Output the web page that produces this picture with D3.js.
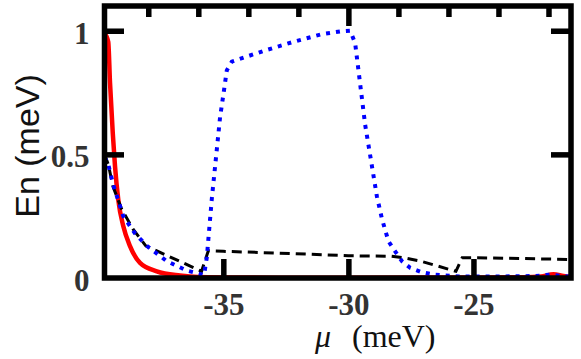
<!DOCTYPE html>
<html>
<head>
<meta charset="utf-8">
<script src="https://cdn.jsdelivr.net/npm/d3@7"></script>
<style>
  body { margin: 0; background: #fff; }
  svg { display: block; }
</style>
</head>
<body>
<svg id="chart" width="581" height="359"></svg>
<script>
// values
const redMu  = [-39.75, -39.6, -39.53, -39.42, -39.33, -39.2, -39.0, -38.73, -38.33, -37.66, -36.73, -36.0, -34.0, -30.0, -26.0, -23.0, -22.3, -21.8, -21.4, -21.1];
const redE   = [0.99, 0.955, 0.79, 0.587, 0.452, 0.317, 0.21, 0.129, 0.061, 0.027, 0.01, 0.004, 0.002, 0.001, 0.002, 0.003, 0.006, 0.015, 0.008, 0.004];

const blueMu = [-39.75, -39.6, -39.41, -39.0, -38.53, -38.06, -37.26, -36.46, -36.0, -35.77, -35.66, -35.46, -35.13, -35.0, -34.86, -34.66, -33.4, -32.2, -31.06, -30.33, -29.93, -29.73, -29.33, -28.86, -28.66, -28.4, -28.13, -27.86, -27.53, -27.06, -26.6, -25.5, -24.0, -22.5, -21.9, -21.5, -21.1];
const blueE  = [0.49, 0.46, 0.38, 0.25, 0.18, 0.13, 0.068, 0.03, 0.018, 0.012, 0.083, 0.32, 0.65, 0.74, 0.84, 0.875, 0.918, 0.955, 0.986, 0.997, 1.0, 0.95, 0.62, 0.33, 0.24, 0.149, 0.108, 0.068, 0.041, 0.023, 0.014, 0.006, 0.006, 0.008, 0.014, 0.008, 0.006];

const blackMu = [-39.75, -39.6, -39.41, -39.07, -38.6, -38.1, -35.87, -35.6, -35.0, -32.3, -30.0, -28.3, -27.8, -27.1, -25.7, -25.45, -24.9, -21.1];
const blackE  = [0.5, 0.46, 0.37, 0.28, 0.196, 0.13, 0.027, 0.11, 0.108, 0.099, 0.09, 0.088, 0.082, 0.068, 0.027, 0.082, 0.082, 0.075];

const xMajor = [-35, -30, -25];
const xTopMinor = [-38, -36, -34, -32, -28, -26, -24, -22];
const xTopLong = [-30];
const yMajor = [0, 0.5, 1];
const yTicksInside = [0.5, 1];

const svg = d3.select('#chart');

const x = d3.scaleLinear().domain([-39.75, -21.1]).range([104.5, 571]);
const y = d3.scaleLinear().domain([0, 1.1]).range([278, 6]);

const zip = (a, b) => a.map((d, i) => [d, b[i]]);

svg.append('clipPath').attr('id', 'plotClip')
    .append('rect')
    .attr('x', x.range()[0]).attr('y', y.range()[1])
    .attr('width', x.range()[1] - x.range()[0])
    .attr('height', y.range()[0] - y.range()[1]);

const plot = svg.append('g').attr('clip-path', 'url(#plotClip)');

const line = d3.line().x(d => x(d[0])).y(d => y(d[1]));

plot.append('path')
    .datum(zip(redMu, redE))
    .attr('d', line.curve(d3.curveMonotoneX))
    .attr('fill', 'none')
    .attr('stroke', '#ff0000')
    .attr('stroke-width', 4.5);

plot.append('path')
    .datum(zip(blackMu, blackE))
    .attr('d', line.curve(d3.curveLinear))
    .attr('fill', 'none')
    .attr('stroke', '#000')
    .attr('stroke-width', 3)
    .attr('stroke-dasharray', '10,6');

plot.append('path')
    .datum(zip(blueMu, blueE))
    .attr('d', line.curve(d3.curveLinear))
    .attr('fill', 'none')
    .attr('stroke', '#0000ff')
    .attr('stroke-width', 4)
    .attr('stroke-dasharray', '4,6');

// axes
function styleAxis(g) {
    g.select('.domain').remove();
    g.selectAll('.tick line').attr('stroke', '#000').attr('stroke-width', 5.5);
    g.selectAll('.tick text')
        .attr('font-family', '"Liberation Serif", "Times New Roman", serif')
        .attr('font-weight', 'bold')
        .attr('font-size', 31)
        .attr('fill', '#333');
}

// plain hyphen like the reference, not the unicode minus
const plain = d => String(d);

svg.append('g')
    .attr('transform', `translate(0,${y.range()[0]})`)
    .call(d3.axisBottom(x).tickValues(xMajor).tickSizeInner(-19).tickSizeOuter(0).tickPadding(37).tickFormat(plain))
    .call(styleAxis)
    .call(g => g.selectAll('.tick text').attr('dy', 0));

svg.append('g')
    .attr('transform', `translate(0,${y.range()[1]})`)
    .call(d3.axisTop(x).tickValues(xTopMinor).tickSizeInner(-11).tickSizeOuter(0).tickFormat(''))
    .call(styleAxis);

svg.append('g')
    .attr('transform', `translate(0,${y.range()[1]})`)
    .call(d3.axisTop(x).tickValues(xTopLong).tickSizeInner(-20).tickSizeOuter(0).tickFormat(''))
    .call(styleAxis);

svg.append('g')
    .attr('transform', `translate(${x.range()[0]},0)`)
    .call(d3.axisLeft(y).tickValues(yMajor).tickSizeInner(-19.5).tickSizeOuter(0).tickPadding(15).tickFormat(plain))
    .call(styleAxis)
    .call(g => g.selectAll('.tick text').attr('dy', '0.4em'))
    .call(g => g.selectAll('.tick').filter(d => d === 0).select('line').remove());

svg.append('g')
    .attr('transform', `translate(${x.range()[1]},0)`)
    .call(d3.axisRight(y).tickValues(yTicksInside).tickSizeInner(-20).tickSizeOuter(0).tickFormat(''))
    .call(styleAxis);

// frame
svg.append('rect')
    .attr('x', x.range()[0]).attr('y', y.range()[1])
    .attr('width', x.range()[1] - x.range()[0])
    .attr('height', y.range()[0] - y.range()[1])
    .attr('fill', 'none')
    .attr('stroke', '#000')
    .attr('stroke-width', 5.5);

// axis titles
const xTitle = svg.append('text')
    .attr('y', 347)
    .attr('font-family', '"Liberation Serif", "Times New Roman", serif')
    .attr('font-size', 32)
    .attr('fill', '#111');
xTitle.append('tspan').attr('x', 315).attr('font-style', 'italic').text('μ');
xTitle.append('tspan').attr('x', 352).text('(meV)');

svg.append('text')
    .attr('transform', 'translate(38.5,146) rotate(-90)')
    .attr('text-anchor', 'middle')
    .attr('font-family', '"Liberation Sans", Arial, sans-serif')
    .attr('font-size', 34)
    .attr('fill', '#111')
    .text('En (meV)');
</script>
</body>
</html>
